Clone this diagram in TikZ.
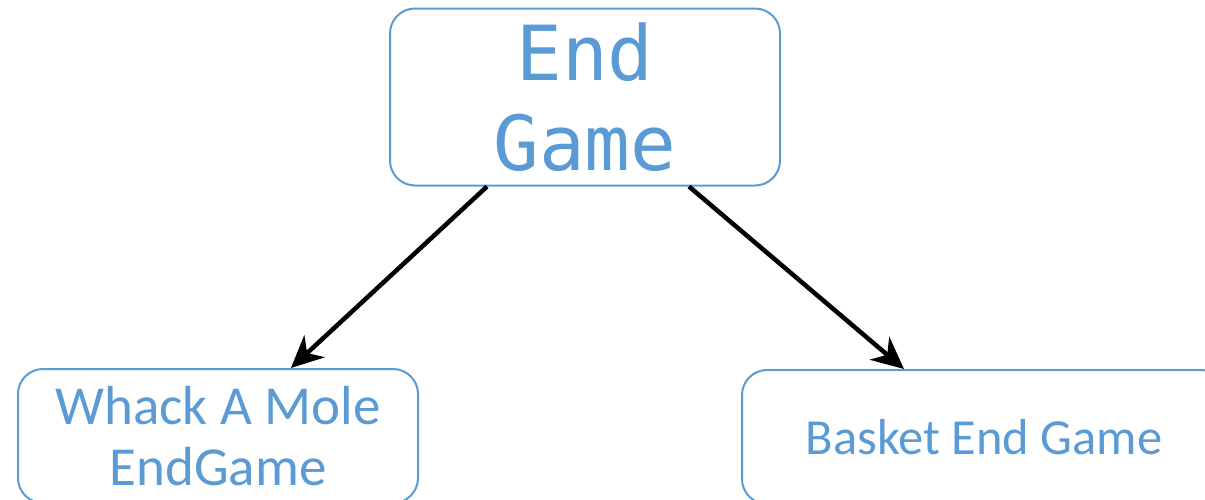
\documentclass[tikz,border=0pt]{standalone}
\usepackage{fontspec}
\setmainfont{Carlito}
\newfontfamily\monofont{DejaVu Sans Mono}
\usetikzlibrary{arrows.meta}
\definecolor{boxblue}{HTML}{5B9BD5}
\begin{document}
\begin{tikzpicture}[x=1pt,y=-1pt,
  box/.style={draw=boxblue,line width=2pt,rounded corners=25pt,text=boxblue,align=center,inner sep=0pt},
  arr/.style={line width=4.5pt,-{Stealth[length=32pt,width=30pt,inset=10pt]}}]
\useasboundingbox (0,0) rectangle (1205,499);
\clip (0,0) rectangle (1205,499);
\node[box,minimum width=390pt,minimum height=177pt,font=\monofont\fontsize{76}{90}\selectfont] (top) at (585,97) {End\\Game};
\node[box,minimum width=400pt,minimum height=134pt,font=\fontsize{55}{61}\selectfont] (wam) at (218,436) {Whack A Mole\\EndGame};
\node[box,minimum width=484pt,minimum height=134pt,font=\fontsize{50.5}{60}\selectfont] (bsk) at (984,437) {Basket End Game};
\draw[arr] ([xshift=98pt]top.south west) -- ([xshift=274pt]wam.north west);
\draw[arr] ([xshift=300pt]top.south west) -- ([xshift=163pt]bsk.north west);
\end{tikzpicture}
\end{document}
